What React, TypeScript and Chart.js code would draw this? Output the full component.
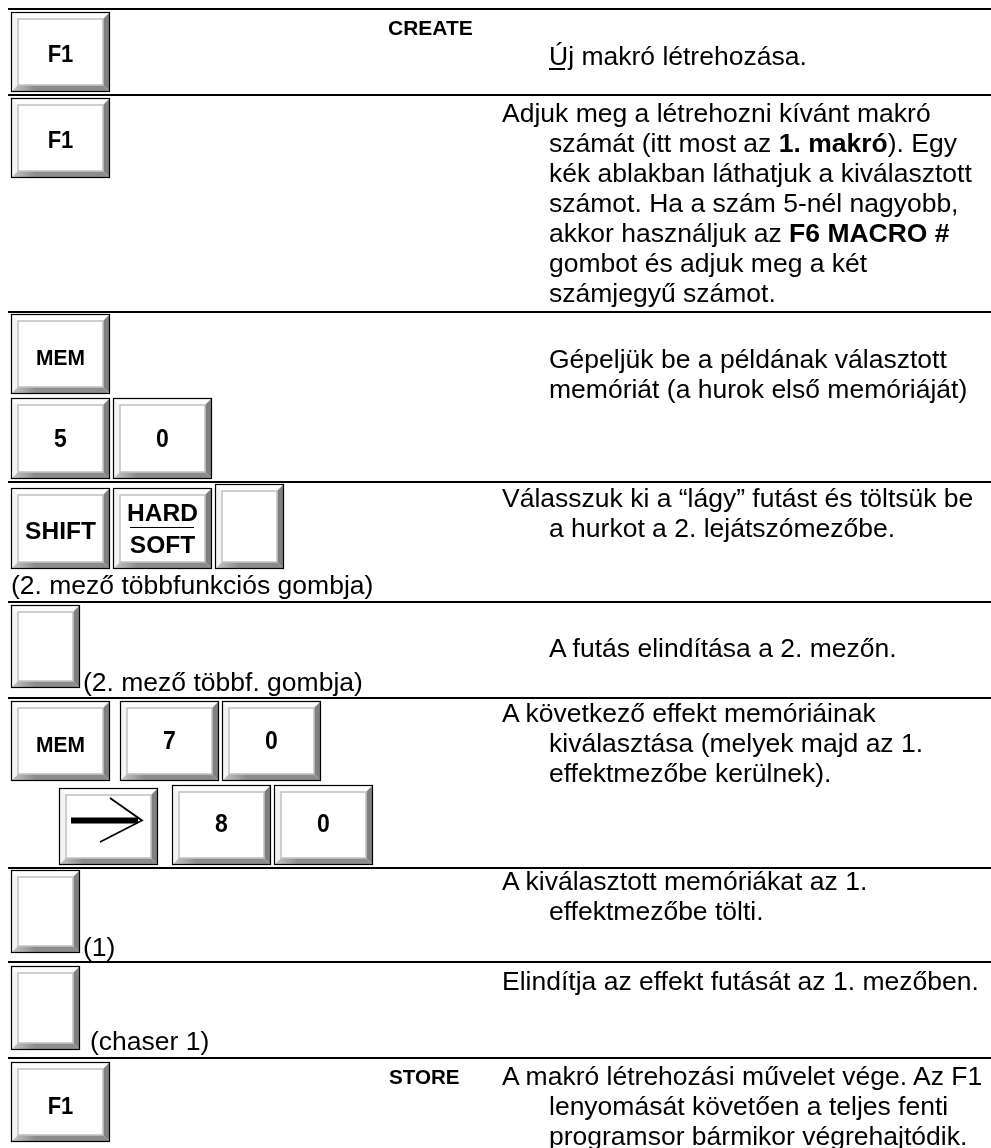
import React, { useEffect, useRef } from "react";
import { Chart, registerables } from "chart.js";

Chart.register(...registerables);

// ---------------- content (data) ----------------
const commandWords = ["CREATE", "STORE"];
const keyLabels = ["F1", "F1", "MEM", "5", "0", "SHIFT", "HARD|SOFT", "", "", "MEM", "7", "0", "→", "8", "0", "", "", "F1"];
const captions = ["(2. mező többfunkciós gombja)", "(2. mező többf. gombja)", "(1)", "(chaser 1)"];

const descCreate = ["__Új__ makró létrehozása."];
const descNumber = [
  "Adjuk meg a létrehozni kívánt makró",
  "számát (itt most az **1. makró**). Egy",
  "kék ablakban láthatjuk a kiválasztott",
  "számot. Ha a szám 5-nél nagyobb,",
  "akkor használjuk az **F6 MACRO #**",
  "gombot és adjuk meg a két",
  "számjegyű számot.",
];
const descMemory = ["Gépeljük be a példának választott", "memóriát (a hurok első memóriáját)"];
const descSoft = ["Válasszuk ki a “lágy” futást és töltsük be", "a hurkot a 2. lejátszómezőbe."];
const descRun = ["A futás elindítása a 2. mezőn."];
const descEffect = ["A következő effekt memóriáinak", "kiválasztása (melyek majd az 1.", "effektmezőbe kerülnek)."];
const descLoad = ["A kiválasztott memóriákat az 1.", "effektmezőbe tölti."];
const descChase = ["Elindítja az effekt futását az 1. mezőben."];
const descStore = ["A makró létrehozási művelet vége. Az F1", "lenyomását követően a teljes fenti", "programsor bármikor végrehajtódik."];

// ---------------- layout (positions / styles) ----------------
const PAGE_W = 991;
const PAGE_H = 1148;
const FONT = '"Liberation Sans", Arial, Helvetica, sans-serif';
const BODY_SIZE = 26.5;
const LINE_GAP = 30;
const RULE_LEFT = 8;
const RULES_Y = [9, 95, 312, 482, 602, 698, 868, 962, 1058];

type Box = { x: number; y: number; w: number; h: number; fs?: number; dy?: number; sy?: number };
const KEY_BOXES: Box[] = [
  { x: 11, y: 12, w: 99, h: 80, fs: 22, dy: 2, sy: 1.12 },
  { x: 11, y: 98, w: 99, h: 80, fs: 22, dy: 2, sy: 1.12 },
  { x: 11, y: 314, w: 99, h: 80, fs: 21, dy: 3, sy: 1.05 },
  { x: 11, y: 398, w: 99, h: 81, fs: 23, dy: 0, sy: 1.15 },
  { x: 113, y: 398, w: 99, h: 81, fs: 23, dy: 0, sy: 1.15 },
  { x: 11, y: 488, w: 99, h: 81, fs: 24.5, dy: 2 },
  { x: 113, y: 488, w: 99, h: 81, fs: 24.5, dy: 0 },
  { x: 215, y: 484, w: 69, h: 85 },
  { x: 11, y: 605, w: 69, h: 83 },
  { x: 11, y: 701, w: 99, h: 80, fs: 21, dy: 3, sy: 1.05 },
  { x: 120, y: 701, w: 99, h: 80, fs: 23, dy: -1, sy: 1.15 },
  { x: 222, y: 701, w: 99, h: 80, fs: 23, dy: -1, sy: 1.15 },
  { x: 59, y: 788, w: 99, h: 77 },
  { x: 172, y: 785, w: 99, h: 80, fs: 23, dy: -2, sy: 1.15 },
  { x: 274, y: 785, w: 99, h: 80, fs: 23, dy: -2, sy: 1.15 },
  { x: 11, y: 870, w: 69, h: 83 },
  { x: 11, y: 966, w: 69, h: 84 },
  { x: 11, y: 1062, w: 99, h: 80, fs: 22, dy: 4, sy: 1.12 },
];
const COMMAND_POS = [
  { x: 388, base: 35, fs: 21 },
  { x: 389, base: 1084, fs: 20.6 },
];
const CAPTION_POS = [
  { x: 11, base: 594 },
  { x: 83, base: 691 },
  { x: 83, base: 956 },
  { x: 90, base: 1050 },
];
const DESCS: { lines: string[]; base: number; first: number; rest: number }[] = [
  { lines: descCreate, base: 65, first: 549, rest: 549 },
  { lines: descNumber, base: 122, first: 502, rest: 549 },
  { lines: descMemory, base: 368, first: 549, rest: 549 },
  { lines: descSoft, base: 507, first: 502, rest: 549 },
  { lines: descRun, base: 657, first: 549, rest: 549 },
  { lines: descEffect, base: 722, first: 502, rest: 549 },
  { lines: descLoad, base: 890, first: 502, rest: 549 },
  { lines: descChase, base: 990, first: 502, rest: 502 },
  { lines: descStore, base: 1085, first: 502, rest: 549 },
];

// ---------------- helpers ----------------
function Txt(props: {
  x: number;
  base: number;
  size: number;
  bold?: boolean;
  width?: number;
  sy?: number;
  children: React.ReactNode;
}) {
  const { x, base, size, bold, width, sy, children } = props;
  return (
    <div
      style={{
        position: "absolute",
        left: x,
        top: base - 0.8465 * size,
        width: width,
        textAlign: width ? "center" : "left",
        fontFamily: FONT,
        fontSize: size,
        lineHeight: `${size}px`,
        fontWeight: bold ? 700 : 400,
        whiteSpace: "nowrap",
        color: "#000",
        transform: sy ? `scaleY(${sy})` : undefined,
        transformOrigin: "50% 50%",
      }}
    >
      {children}
    </div>
  );
}

function rich(line: string) {
  const parts = line.split(/(\*\*[^*]+\*\*|__[^_]+__)/);
  return parts.map((p, i) => {
    if (p.startsWith("**")) return <b key={i}>{p.slice(2, -2)}</b>;
    if (p.startsWith("__")) return <u key={i} style={{ textUnderlineOffset: 3 }}>{p.slice(2, -2)}</u>;
    return <React.Fragment key={i}>{p}</React.Fragment>;
  });
}

function drawKey(ctx: CanvasRenderingContext2D, x: number, y: number, w: number, h: number) {
  const L = 7, T = 7, R = 7, B = 7;
  ctx.save();
  ctx.fillStyle = "#ffffff";
  ctx.fillRect(x, y, w, h);
  // left bevel
  ctx.fillStyle = "#f4f4f4";
  ctx.beginPath();
  ctx.moveTo(x, y); ctx.lineTo(x + L, y + T); ctx.lineTo(x + L, y + h - B); ctx.lineTo(x, y + h); ctx.closePath();
  ctx.fill();
  // top bevel
  ctx.fillStyle = "#fdfdfd";
  ctx.beginPath();
  ctx.moveTo(x, y); ctx.lineTo(x + w, y); ctx.lineTo(x + w - R, y + T); ctx.lineTo(x + L, y + T); ctx.closePath();
  ctx.fill();
  // bottom bevel
  const g = ctx.createLinearGradient(x, 0, x + 24, 0);
  g.addColorStop(0, "#c8c8c8");
  g.addColorStop(1, "#8c8c8c");
  ctx.fillStyle = g;
  ctx.beginPath();
  ctx.moveTo(x, y + h); ctx.lineTo(x + w, y + h); ctx.lineTo(x + w - R, y + h - B); ctx.lineTo(x + L, y + h - B); ctx.closePath();
  ctx.fill();
  // right bevel
  ctx.fillStyle = "#808080";
  ctx.beginPath();
  ctx.moveTo(x + w, y); ctx.lineTo(x + w, y + h); ctx.lineTo(x + w - R, y + h - B); ctx.lineTo(x + w - R, y + T); ctx.closePath();
  ctx.fill();
  // face outline
  ctx.strokeStyle = "#c4c4c4";
  ctx.lineWidth = 1.6;
  ctx.strokeRect(x + L, y + T, w - L - R, h - T - B);
  // outer border
  ctx.strokeStyle = "#000";
  ctx.lineWidth = 1.2;
  ctx.strokeRect(x + 0.5, y + 0.5, w - 1, h - 1);
  ctx.restore();
}

function drawArrow(ctx: CanvasRenderingContext2D, x: number, y: number) {
  ctx.save();
  ctx.fillStyle = "#000";
  ctx.fillRect(x + 12, y + 29.5, 67, 6);
  ctx.strokeStyle = "#000";
  ctx.lineWidth = 1.8;
  ctx.beginPath();
  ctx.moveTo(x + 51, y + 10);
  ctx.lineTo(x + 83, y + 32.5);
  ctx.lineTo(x + 41, y + 54);
  ctx.stroke();
  ctx.restore();
}

const keysPlugin = {
  id: "keysPlugin",
  afterDatasetsDraw(chart: any) {
    const ctx: CanvasRenderingContext2D = chart.ctx;
    const xs = chart.scales.x;
    const ys = chart.scales.y;
    KEY_BOXES.forEach((b, i) => {
      const px = xs.getPixelForValue(b.x);
      const py = ys.getPixelForValue(b.y);
      const pw = xs.getPixelForValue(b.x + b.w) - px;
      const ph = ys.getPixelForValue(b.y + b.h) - py;
      drawKey(ctx, px, py, pw, ph);
      if (keyLabels[i] === "→") drawArrow(ctx, px, py);
    });
  },
};

export default function App() {
  const canvasRef = useRef<HTMLCanvasElement | null>(null);

  useEffect(() => {
    const canvas = canvasRef.current;
    if (!canvas) return;
    const chart = new Chart(canvas, {
      type: "scatter",
      data: {
        datasets: RULES_Y.map((ry) => ({
          data: [
            { x: RULE_LEFT, y: ry },
            { x: PAGE_W, y: ry },
          ],
          showLine: true,
          borderColor: "#000",
          borderWidth: 2,
          pointRadius: 0,
          clip: false,
        })) as any,
      },
      options: {
        animation: false,
        responsive: false,
        maintainAspectRatio: false,
        devicePixelRatio: 1,
        layout: { padding: 0 },
        events: [],
        scales: {
          x: { type: "linear", min: 0, max: PAGE_W, display: false },
          y: { type: "linear", min: 0, max: PAGE_H, reverse: true, display: false },
        },
        plugins: { legend: { display: false }, tooltip: { enabled: false }, title: { display: false } },
      } as any,
      plugins: [keysPlugin],
    });
    return () => chart.destroy();
  }, []);

  return (
    <div
      style={{
        position: "absolute",
        left: 0,
        top: 0,
        width: PAGE_W,
        height: PAGE_H,
        overflow: "hidden",
        background: "#fff",
      }}
    >
      <canvas
        ref={canvasRef}
        width={PAGE_W}
        height={PAGE_H}
        style={{ position: "absolute", left: 0, top: 0, width: PAGE_W, height: PAGE_H }}
      />
      {KEY_BOXES.map((b, i) => {
        const lab = keyLabels[i];
        if (!lab || lab === "→" || !b.fs) return null;
        const cy = b.y + b.h / 2 + (b.dy || 0);
        if (lab.includes("|")) {
          const [top, bottom] = lab.split("|");
          return (
            <React.Fragment key={i}>
              <Txt x={b.x} width={b.w} base={b.y + 25 + 0.358 * b.fs} size={b.fs} bold>
                {top}
              </Txt>
              <div
                style={{ position: "absolute", left: b.x + 17, top: b.y + 39, width: 64, height: 1, background: "#000" }}
              />
              <Txt x={b.x} width={b.w} base={b.y + 57 + 0.358 * b.fs} size={b.fs} bold>
                {bottom}
              </Txt>
            </React.Fragment>
          );
        }
        return (
          <Txt key={i} x={b.x} width={b.w} base={cy + 0.358 * b.fs} size={b.fs} bold sy={b.sy}>
            {lab}
          </Txt>
        );
      })}
      {commandWords.map((w, i) => (
        <Txt key={"c" + i} x={COMMAND_POS[i].x} base={COMMAND_POS[i].base} size={COMMAND_POS[i].fs} bold>
          {w}
        </Txt>
      ))}
      {captions.map((c, i) => (
        <Txt key={"k" + i} x={CAPTION_POS[i].x} base={CAPTION_POS[i].base} size={BODY_SIZE}>
          {c}
        </Txt>
      ))}
      {DESCS.map((d, i) =>
        d.lines.map((line, j) => (
          <Txt key={`d${i}-${j}`} x={j === 0 ? d.first : d.rest} base={d.base + j * LINE_GAP} size={BODY_SIZE}>
            {rich(line)}
          </Txt>
        ))
      )}
    </div>
  );
}
